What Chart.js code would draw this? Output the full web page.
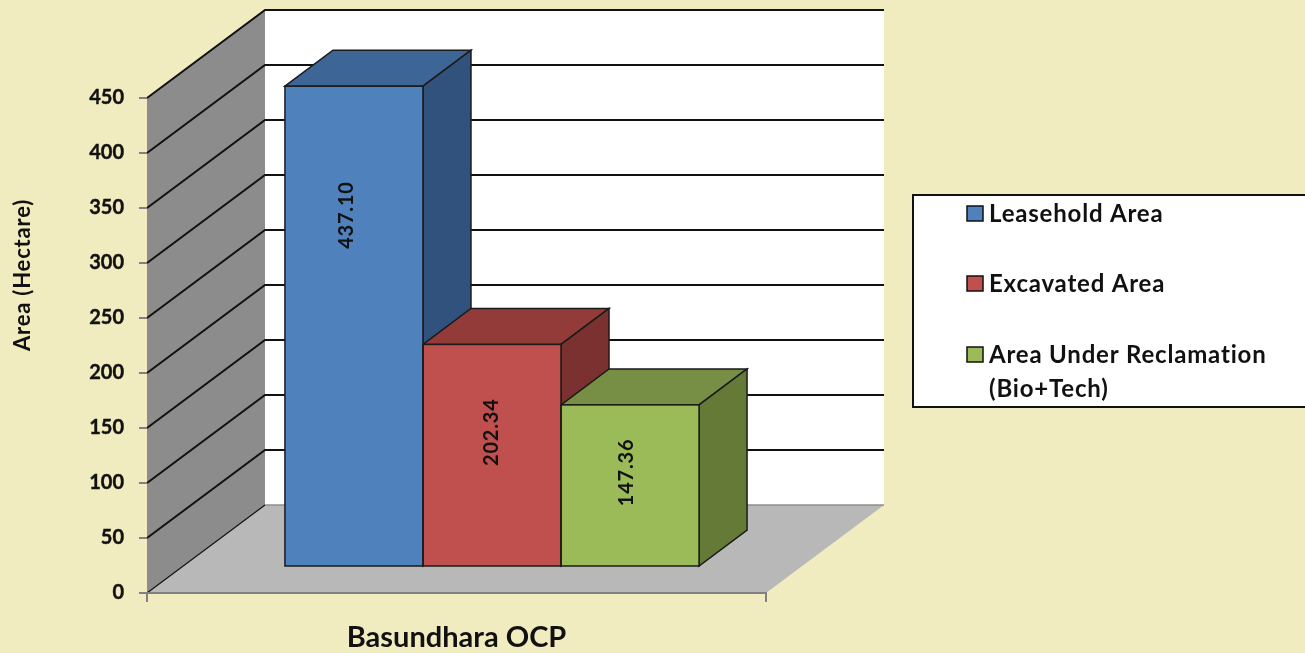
<!DOCTYPE html>
<html>
<head>
<meta charset="utf-8">
<style>
  html, body { margin: 0; padding: 0; background: #f1ecc0; overflow: hidden; }
  canvas { display: block; }
</style>
<script src="https://cdn.jsdelivr.net/npm/chart.js@4"></script>
</head>
<body>
<canvas id="areaChart" width="1305" height="653"></canvas>
<script>
  // chart data
  const categories = ['Basundhara OCP'];
  const leaseholdValues = [437.10];
  const excavatedValues = [202.34];
  const reclamationValues = [147.36];
  const seriesNames = ['Leasehold Area', 'Excavated Area', ['Area Under Reclamation', '(Bio+Tech)']];
  const yAxisTitle = 'Area (Hectare)';
  const tickStep = 50;
  const tickMax = 450;

  // colours per series: front, top, side
  const frontColors = ['#4f81bd', '#c0504d', '#9bbb59'];
  const topColors = ['#3d6595', '#923b39', '#778f44'];
  const sideColors = ['#31527c', '#7b3130', '#657a37'];

  // 3d look
  const wallDepth = { x: 118, y: 88 };
  const barShift = { x: 35.5, y: 26 };
  const barDepth = { x: 48, y: 36 };
  const labelNudges = [[-7, -111], [0, -23], [-3, -13]];
  const fontName = 'Lato, Carlito, sans-serif';

  function poly(ctx, pts, fill, stroke, width) {
    ctx.beginPath();
    pts.forEach((p, i) => i ? ctx.lineTo(p[0], p[1]) : ctx.moveTo(p[0], p[1]));
    ctx.closePath();
    if (fill) { ctx.fillStyle = fill; ctx.fill(); }
    if (stroke) { ctx.strokeStyle = stroke; ctx.lineWidth = width || 1; ctx.stroke(); }
  }

  const wallsPlugin = {
    id: 'walls',
    beforeDraw(chart) {
      const ctx = chart.ctx, area = chart.chartArea, y = chart.scales.y;
      const dx = wallDepth.x, dy = wallDepth.y;
      ctx.save();
      ctx.fillStyle = '#f1ecc0';
      ctx.fillRect(0, 0, chart.width, chart.height);

      // back wall, side wall, floor
      poly(ctx, [[area.left + dx, area.top - dy], [area.right + dx, area.top - dy], [area.right + dx, area.bottom - dy], [area.left + dx, area.bottom - dy]], '#ffffff');
      poly(ctx, [[area.left, area.top], [area.left + dx, area.top - dy], [area.left + dx, area.bottom - dy], [area.left, area.bottom]], '#8c8c8c');
      poly(ctx, [[area.left, area.bottom], [area.left + dx, area.bottom - dy], [area.right + dx, area.bottom - dy], [area.right, area.bottom]], '#b8b8b8');

      // gridlines run along the side wall and then the back wall
      y.ticks.forEach(t => {
        const py = y.getPixelForValue(t.value);
        ctx.beginPath();
        ctx.moveTo(area.left, py);
        ctx.lineTo(area.left + dx, py - dy);
        if (t.value > 0) ctx.lineTo(area.right + dx, py - dy);
        ctx.strokeStyle = '#111111';
        ctx.lineWidth = t.value > 0 ? 2 : 1.2;
        ctx.stroke();
      });

      // floor edge against the back wall
      ctx.beginPath();
      ctx.moveTo(area.left + dx, area.bottom - dy);
      ctx.lineTo(area.right + dx, area.bottom - dy);
      ctx.strokeStyle = '#8f8f8f';
      ctx.lineWidth = 1.5;
      ctx.stroke();
      ctx.restore();
    },
    beforeDatasetsDraw(chart) {
      const ctx = chart.ctx;
      ctx.save();
      chart.data.datasets.forEach((ds, i) => {
        const bar = chart.getDatasetMeta(i).data[0];
        const l = bar.x - bar.width / 2 + barShift.x, r = bar.x + bar.width / 2 + barShift.x;
        const t = bar.y - barShift.y, b = bar.base - barShift.y;
        const ox = barDepth.x, oy = barDepth.y;
        poly(ctx, [[l, t], [l + ox, t - oy], [r + ox, t - oy], [r, t]], topColors[i], '#1a1a1a', 1.5);
        poly(ctx, [[r, t], [r + ox, t - oy], [r + ox, b - oy], [r, b]], sideColors[i], '#1a1a1a', 1.5);
      });
      // real bars are drawn shifted into the room
      ctx.translate(barShift.x, -barShift.y);
    },
    afterDatasetsDraw(chart) {
      const ctx = chart.ctx;

      // outline of the front faces
      chart.data.datasets.forEach((ds, i) => {
        const bar = chart.getDatasetMeta(i).data[0];
        ctx.strokeStyle = '#1a1a1a';
        ctx.lineWidth = 1.5;
        ctx.strokeRect(bar.x - bar.width / 2, bar.y, bar.width, bar.base - bar.y);
      });
      ctx.restore();

      // value labels, turned on their side
      ctx.save();
      ctx.fillStyle = '#111111';
      ctx.font = 'bold 20px ' + fontName;
      ctx.letterSpacing = '0.8px';
      ctx.textAlign = 'center';
      ctx.textBaseline = 'middle';
      chart.data.datasets.forEach((ds, i) => {
        const bar = chart.getDatasetMeta(i).data[0];
        ctx.save();
        ctx.translate(bar.x + barShift.x + labelNudges[i][0], (bar.y + bar.base) / 2 - barShift.y + labelNudges[i][1]);
        ctx.rotate(-Math.PI / 2);
        ctx.fillText(ds.data[0].toFixed(2), 0, 0);
        ctx.restore();
      });

      // y title sits above the middle of the axis so it is done by hand
      ctx.save();
      ctx.font = 'bold 22px ' + fontName;
      ctx.translate(23, 275);
      ctx.rotate(-Math.PI / 2);
      ctx.fillText(yAxisTitle, 0, 0);
      ctx.restore();

      // legend box
      ctx.fillStyle = '#ffffff';
      ctx.fillRect(913, 195, 400, 212);
      ctx.strokeStyle = '#111111';
      ctx.lineWidth = 2;
      ctx.strokeRect(913, 195, 400, 212);
      ctx.font = 'bold 24px ' + fontName;
      ctx.textAlign = 'left';
      const rows = [214, 284, 355];
      chart.data.datasets.forEach((ds, i) => {
        ctx.fillStyle = frontColors[i];
        ctx.fillRect(967, rows[i] - 8, 16, 15);
        ctx.strokeStyle = '#111111';
        ctx.lineWidth = 1.5;
        ctx.strokeRect(967, rows[i] - 8, 16, 15);
        ctx.fillStyle = '#111111';
        [].concat(ds.label).forEach((line, j) => ctx.fillText(line, 989, rows[i] + j * 34));
      });
      ctx.restore();
    }
  };

  const datasets = [leaseholdValues, excavatedValues, reclamationValues].map((values, i) => ({
    label: seriesNames[i],
    data: values,
    backgroundColor: frontColors[i],
    borderWidth: 0,
    clip: false
  }));

  new Chart(document.getElementById('areaChart').getContext('2d'), {
    type: 'bar',
    data: { labels: categories, datasets: datasets },
    plugins: [wallsPlugin],
    options: {
      responsive: false,
      animation: false,
      layout: { padding: { top: 98, right: 539, left: 0, bottom: 0 } },
      categoryPercentage: 0.669,
      barPercentage: 1,
      plugins: { legend: { display: false }, tooltip: { enabled: false } },
      scales: {
        x: {
          afterFit(scale) { scale.height = 60; },
          grid: { drawOnChartArea: false, tickLength: 9, color: '#808080', lineWidth: 2 },
          border: { color: '#808080', width: 2 },
          ticks: { color: '#111111', font: { family: fontName, size: 29, weight: 'bold' }, padding: 18, maxRotation: 0 }
        },
        y: {
          min: 0,
          max: tickMax,
          afterFit(scale) { scale.width = 147; },
          grid: { drawOnChartArea: false, tickLength: 8, color: '#808080', lineWidth: 2 },
          border: { display: false },
          ticks: { stepSize: tickStep, color: '#111111', font: { family: fontName, size: 20, weight: 'bold' }, padding: 15, textStrokeColor: '#111111', textStrokeWidth: 0.4 }
        }
      }
    }
  });
</script>
</body>
</html>
